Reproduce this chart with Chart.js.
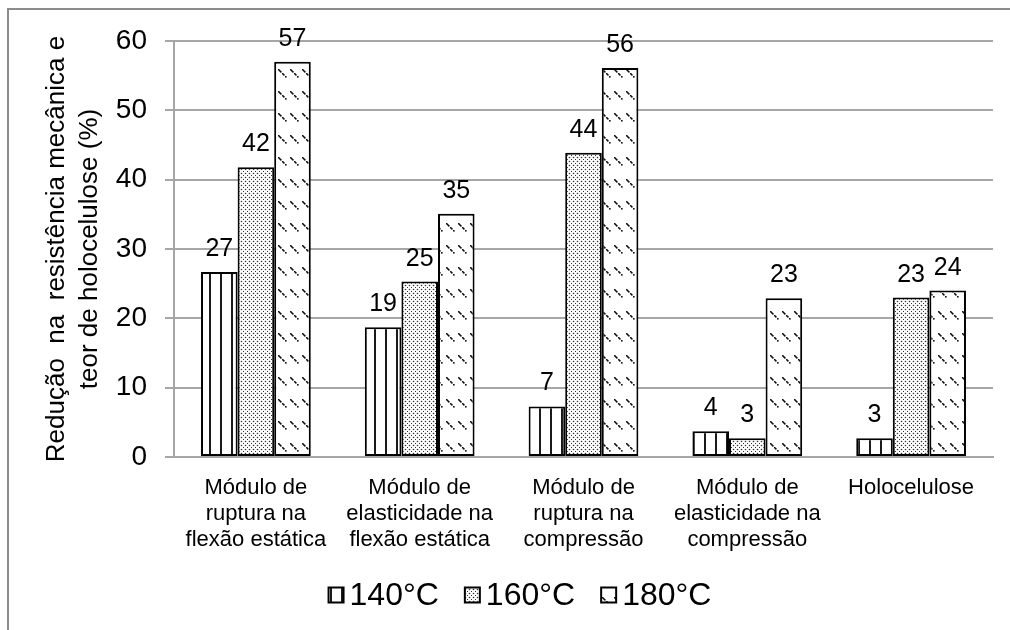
<!DOCTYPE html>
<html>
<head>
<meta charset="utf-8">
<title>Redução na resistência mecânica e teor de holocelulose</title>
<script src="https://cdn.jsdelivr.net/npm/chart.js@4.4.1/dist/chart.umd.min.js"></script>
<style>
    html, body { margin: 0; padding: 0; background: #fff; }
    #wrap { width: 1010px; height: 630px; position: relative; }
</style>
</head>
<body>
<div id="wrap"><canvas id="chart-reducao" width="1010" height="630"></canvas></div>
<script>
// Chart data
const categories = [
    ['Módulo de', 'ruptura na', 'flexão estática'],
    ['Módulo de', 'elasticidade na', 'flexão estática'],
    ['Módulo de', 'ruptura na', 'compressão'],
    ['Módulo de', 'elasticidade na', 'compressão'],
    ['Holocelulose']
];
const seriesNames = ['140°C', '160°C', '180°C'];
const values140 = [26.7, 18.7, 7.3, 3.7, 2.7];
const values160 = [41.8, 25.3, 43.9, 2.7, 23.0];
const values180 = [57.0, 35.1, 56.1, 22.9, 24.0];
const yTicks = [0, 10, 20, 30, 40, 50, 60];
const yTitle = ['Redução  na  resistência mecânica e', 'teor de holocelulose (%)'];

const FONT = "'Liberation Sans', Arial, sans-serif";

/**
 * Build a fill pattern on a small offscreen canvas
 */
function makePattern(w, h, paint) {
    const c = document.createElement('canvas');
    c.width = w;
    c.height = h;
    const g = c.getContext('2d');
    g.fillStyle = '#fff';
    g.fillRect(0, 0, w, h);
    paint(g);
    return g.createPattern(c, 'repeat');
}

// vertical stripes
const patVertical = makePattern(11, 4, g => {
    g.fillStyle = '#1a1a1a';
    g.fillRect(0, 0, 2, 4);
});

// small dots
const patDots = makePattern(4, 4, g => {
    g.fillStyle = '#333';
    g.beginPath();
    g.arc(1.5, 1.5, 0.8, 0, Math.PI * 2);
    g.fill();
    g.fillRect(3, 3, 1, 1);
});

// short diagonal dashes, three per bar width
const patDiagonal = makePattern(12, 22, g => {
    g.fillStyle = '#111';
    // staircase of small pixel blocks gives a crisp "\" dash
    for (let k = 0; k < 8; k++) {
        if (k === 3 || k === 6) continue;
        g.fillRect(2 + k, 3 + k, 1.6, 1.6);
    }
});

// White background and the grey chart frame (top and left edges)
const framePlugin = {
    id: 'frame',
    beforeDraw(chart) {
        const ctx = chart.ctx;
        ctx.save();
        ctx.fillStyle = '#fff';
        ctx.fillRect(0, 0, chart.width, chart.height);
        ctx.strokeStyle = '#8c8c8c';
        ctx.lineWidth = 2;
        ctx.beginPath();
        ctx.moveTo(8, chart.height);
        ctx.lineTo(8, 9);
        ctx.lineTo(chart.width, 9);
        ctx.stroke();
        ctx.restore();
    }
};

// Rounded values above each bar
const valueLabelPlugin = {
    id: 'valueLabels',
    afterDatasetsDraw(chart) {
        const ctx = chart.ctx;
        ctx.save();
        ctx.font = '25px ' + FONT;
        ctx.fillStyle = '#000';
        ctx.textAlign = 'center';
        ctx.textBaseline = 'alphabetic';
        chart.data.datasets.forEach((ds, i) => {
            chart.getDatasetMeta(i).data.forEach((bar, j) => {
                ctx.fillText(String(Math.round(ds.data[j])), bar.x, bar.y - 16);
            });
        });
        ctx.restore();
    }
};

// Legend drawn by hand: small patterned box, tight gap, large text
const bottomLegendPlugin = {
    id: 'bottomLegend',
    afterDraw(chart) {
        const ctx = chart.ctx;
        const box = 15, gap = 6, spacing = 26, centerX = 520, centerY = 595;
        ctx.save();
        ctx.font = '32px ' + FONT;
        ctx.textBaseline = 'middle';
        ctx.textAlign = 'left';
        const items = chart.data.datasets.map(ds => ({
            ds: ds,
            w: box + gap + ctx.measureText(ds.label).width
        }));
        const total = items.reduce((s, it) => s + it.w, 0) + spacing * (items.length - 1);
        let x = centerX - total / 2;
        items.forEach(it => {
            ctx.fillStyle = it.ds.backgroundColor;
            ctx.fillRect(x, centerY - box / 2, box, box);
            ctx.strokeStyle = '#000';
            ctx.lineWidth = 2;
            ctx.strokeRect(x, centerY - box / 2, box, box);
            ctx.fillStyle = '#000';
            ctx.fillText(it.ds.label, x + box + gap, centerY + 1);
            x += it.w + spacing;
        });
        ctx.restore();
    }
};

const barStyle = {
    borderColor: '#000',
    borderWidth: 2,
    borderSkipped: false,
    barPercentage: 1,
    categoryPercentage: 0.67
};

new Chart(document.getElementById('chart-reducao').getContext('2d'), {
    type: 'bar',
    data: {
        labels: categories,
        datasets: [
            Object.assign({ label: seriesNames[0], data: values140, backgroundColor: patVertical }, barStyle),
            Object.assign({ label: seriesNames[1], data: values160, backgroundColor: patDots }, barStyle),
            Object.assign({ label: seriesNames[2], data: values180, backgroundColor: patDiagonal }, barStyle)
        ]
    },
    options: {
        responsive: false,
        animation: false,
        layout: {
            padding: { left: 0, right: 17, top: 41, bottom: 73 }
        },
        plugins: {
            tooltip: { enabled: false },
            legend: { display: false }
        },
        scales: {
            x: {
                grid: { display: false, drawTicks: false },
                border: { display: true, color: '#a6a6a6', width: 2 },
                ticks: {
                    color: '#000',
                    font: { family: FONT, size: 22, lineHeight: 1.18 },
                    padding: 18,
                    maxRotation: 0,
                    autoSkip: false
                },
                afterFit(scale) { scale.height = 100; }
            },
            y: {
                min: 0,
                max: 60,
                afterBuildTicks(scale) {
                    scale.ticks = yTicks.map(v => ({ value: v }));
                },
                grid: { color: '#a6a6a6', lineWidth: 2, tickLength: 9 },
                border: { display: true, color: '#a6a6a6', width: 2 },
                ticks: {
                    color: '#000',
                    font: { family: FONT, size: 28 },
                    padding: 18
                },
                title: {
                    display: true,
                    text: yTitle,
                    color: '#000',
                    font: { family: FONT, size: 26, lineHeight: 1.27 },
                    padding: { top: 40, bottom: 0 }
                },
                afterFit(scale) { scale.width = 174; }
            }
        }
    },
    plugins: [framePlugin, valueLabelPlugin, bottomLegendPlugin]
});
</script>
</body>
</html>
